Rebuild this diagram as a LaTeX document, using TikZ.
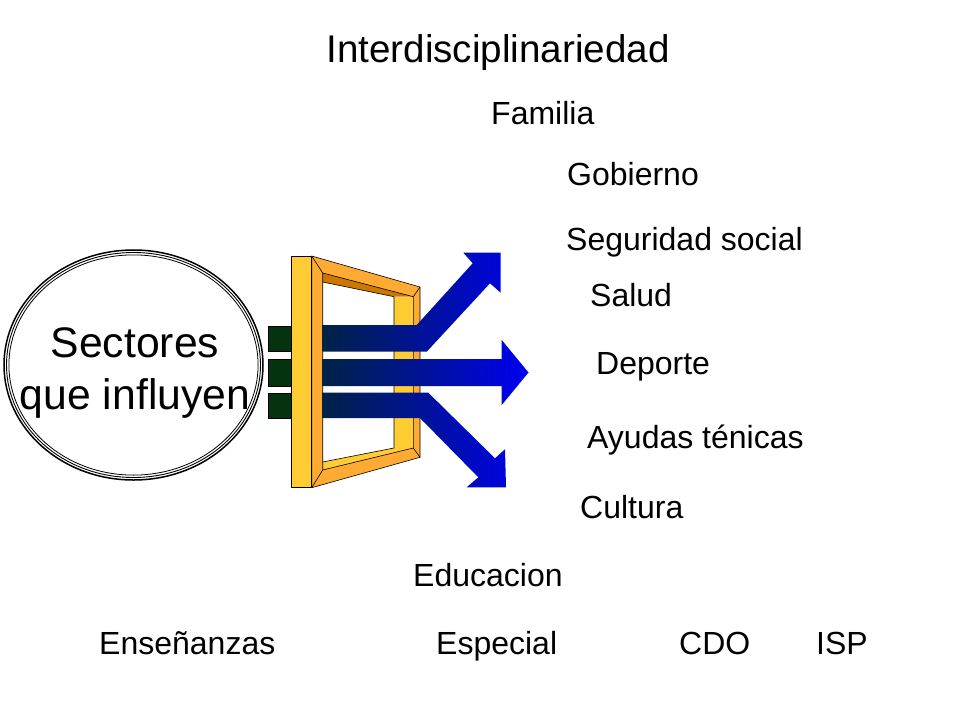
\documentclass[tikz,border=0pt]{standalone}
\usepackage{fontspec}
\setmainfont{Liberation Sans}
\usetikzlibrary{positioning}
\usetikzlibrary{calc}

\definecolor{barYellow}{RGB}{255,204,51}
\definecolor{frameOrange}{RGB}{255,170,51}
\definecolor{frameDark}{RGB}{204,119,0}
\definecolor{stubGreen}{RGB}{5,50,15}
\definecolor{arrowNavy}{RGB}{0,35,70}
\definecolor{arrowBlue}{RGB}{0,0,240}

\begin{document}
\begin{tikzpicture}[x=1pt,y=-1pt,
		campo/.style={font=\fontsize{32}{38}\selectfont, inner sep=0pt, anchor=base west},
		edge/.style={draw=black, line width=0.6pt, line join=round}]
		\useasboundingbox (0,0) rectangle (960,720);

		% Title
		\node[font=\fontsize{38.6}{46}\selectfont, inner sep=0pt, anchor=base] (title) at (498,62) {Interdisciplinariedad};

		% Ellipse with the sectors
		\coordinate (S) at (133.5,365);
		\draw[line width=1.5pt] (S) ellipse [x radius=129.5pt, y radius=115pt];
		\draw[line width=0.9pt] (S) ellipse [x radius=127pt, y radius=112.5pt];
		\draw[line width=0.8pt] (S) ellipse [x radius=124.6pt, y radius=110.1pt];
		\node[font=\fontsize{42.7}{52}\selectfont, align=center, inner sep=0pt, anchor=north] (sect) at (135,327) {Sectores\\que influyen};

		% Green stubs behind the bar
		\foreach \top/\bot in {325.7/351, 359/385.7, 393/418}
			\filldraw[fill=stubGreen, draw=black, line width=0.4pt] (268,\top) rectangle (291.7,\bot);

		% Define the coordinates of the frame
		\coordinate (O1) at (311.7,256);
		\coordinate (O2) at (420,287);
		\coordinate (O3) at (420,457.3);
		\coordinate (O4) at (311.7,487.7);
		\coordinate (M1) at (322.7,273);
		\coordinate (M2) at (413.3,296.7);
		\coordinate (M3) at (413.3,448);
		\coordinate (M4) at (322.7,470);
		\coordinate (H1) at (322.7,282);
		\coordinate (H2) at (394,296.7);
		\coordinate (H3) at (394,448);
		\coordinate (H4) at (322.7,462);

		% Frame faces
		\fill[frameOrange, even odd rule] (O1) -- (O2) -- (O3) -- (O4) -- cycle (M1) -- (M2) -- (M3) -- (M4) -- cycle;
		\fill[frameDark] (M1) -- (M2) -- (H2) -- (H1) -- cycle;
		\fill[barYellow] (H2) -- (M2) -- (M3) -- (H3) -- cycle;
		\fill[barYellow] (H4) -- (H3) -- (M3) -- (M4) -- cycle;

		% Draw the lines
		\draw[edge] (O1) -- (O2) -- (O3) -- (O4) -- cycle;
		\draw[edge] (M1) -- (M2) -- (M3) -- (M4) -- cycle;
		\draw[edge] (H1) -- (H2) -- (H3) -- (H4);
		\foreach \i in {1,2,3,4}
			\draw[edge] (O\i) -- (M\i);

		% Front bar
		\filldraw[fill=barYellow, edge] (291.7,256) rectangle (311.7,487.7);

		% Three arrows
		\shade[left color=arrowNavy, right color=arrowBlue]
			(322.7,325) -- (416.7,325) -- (472.7,263.3) -- (463.3,252.7) -- (500.7,252.7)
				-- (500.7,292.7) -- (490,283.3) -- (426.7,351.7) -- (322.7,351.7) -- cycle
			(322.7,359) -- (501.7,359) -- (501.7,340) -- (528.5,372.5) -- (501.7,405)
				-- (501.7,386) -- (322.7,386) -- cycle
			(322.7,392.7) -- (428.3,392.7) -- (495,458.3) -- (505,449.3) -- (506,487.3)
				-- (466.7,487.3) -- (478.3,477.3) -- (420,418) -- (322.7,418) -- cycle;

		% Labels
		\foreach \name/\x/\y/\txt in {fam/491/124/Familia, gob/567/185/Gobierno,
				seg/566/250/Seguridad social, sal/590/306/Salud, dep/596/374/Deporte,
				ayu/587/448/Ayudas ténicas, cul/580/518/Cultura, edu/413/586/Educacion,
				ens/99/654/Enseñanzas, esp/436/654/Especial, cdo/679/654/CDO, isp/816/654/ISP}
			\node[campo] (\name) at (\x,\y) {\txt};
	\end{tikzpicture}
\end{document}
